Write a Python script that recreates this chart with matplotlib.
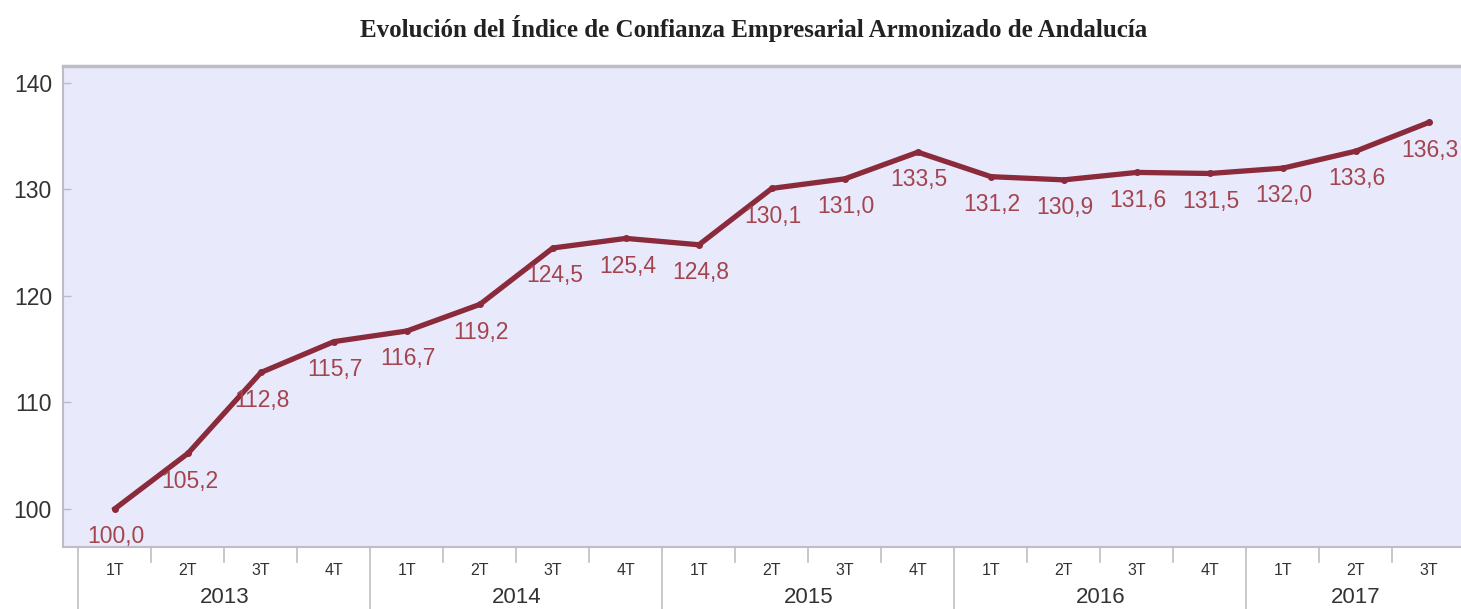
import matplotlib

matplotlib.use("Agg")
import matplotlib.pyplot as plt
import matplotlib.transforms as mtransforms

YEARS = ["2013", "2014", "2015", "2016", "2017"]
QUARTERS = ["1T", "2T", "3T", "4T",
            "1T", "2T", "3T", "4T",
            "1T", "2T", "3T", "4T",
            "1T", "2T", "3T", "4T",
            "1T", "2T", "3T"]
VALUES = [100.0, 105.2, 112.8, 115.7,
          116.7, 119.2, 124.5, 125.4,
          124.8, 130.1, 131.0, 133.5,
          131.2, 130.9, 131.6, 131.5,
          132.0, 133.6, 136.3]

LINE_COLOR = "#8A2A3A"
LABEL_COLOR = "#A3454F"
BG_COLOR = "#E9E9FC"
BORDER = "#BDBDC6"
TEXT = "#333333"

plt.rcParams["font.family"] = ["Liberation Sans", "DejaVu Sans"]

fig = plt.figure(figsize=(14.61, 6.09), dpi=100)
ax = fig.add_axes([63 / 1461, 62 / 609, 1 - 63 / 1461, 481 / 609])
ax.set_facecolor(BG_COLOR)

xs = list(range(len(VALUES)))
ax.plot(xs, VALUES, color=LINE_COLOR, lw=3.8, marker="o", ms=4,
        solid_joinstyle="round", zorder=3)
for x, v in zip(xs, VALUES):
    ax.annotate(f"{v:.1f}".replace(".", ","), (x, v), xytext=(1, -20),
                textcoords="offset points", ha="center", va="center",
                fontsize=16.5, color=LABEL_COLOR, zorder=4)

ax.set_xlim(-0.712, 18.44)
ax.set_ylim(96.4, 141.6)
ax.set_yticks([100, 110, 120, 130, 140])
ax.tick_params(axis="y", direction="in", length=6, width=1, color=BORDER,
               labelsize=16.5, labelcolor=TEXT, pad=8)
ax.set_xticks([])

for side in ["left", "top", "bottom"]:
    ax.spines[side].set_color(BORDER)
    ax.spines[side].set_linewidth(1.5)
ax.spines["top"].set_linewidth(2.5)
ax.spines["right"].set_visible(False)

# categorical axis drawn by hand: quarters and years
trans = mtransforms.blended_transform_factory(ax.transData, ax.transAxes)
for i, q in enumerate(QUARTERS):
    ax.text(i, -0.048, q, transform=trans, ha="center", va="center",
            fontsize=11.5, color=TEXT)
    if i % 4 != 0:
        ax.plot([i - 0.5, i - 0.5], [0, -0.031], transform=trans,
                color=BORDER, lw=1.2, clip_on=False)
for k, year in enumerate(YEARS):
    start = 4 * k - 0.5
    end = min(4 * k + 3.5, len(VALUES) - 0.5)
    ax.plot([start, start], [0, -0.135], transform=trans,
            color=BORDER, lw=1.2, clip_on=False)
    ax.text((start + end) / 2, -0.106, year, transform=trans, ha="center",
            va="center", fontsize=16, color=TEXT)

fig.text(754 / 1461, 1 - 28 / 609,
         "Evolución del Índice de Confianza Empresarial Armonizado de Andalucía",
         ha="center", va="center", fontsize=18, fontweight="bold",
         family=["Liberation Serif", "DejaVu Serif"], color="#222222")

fig.savefig("out.png", dpi=100)
